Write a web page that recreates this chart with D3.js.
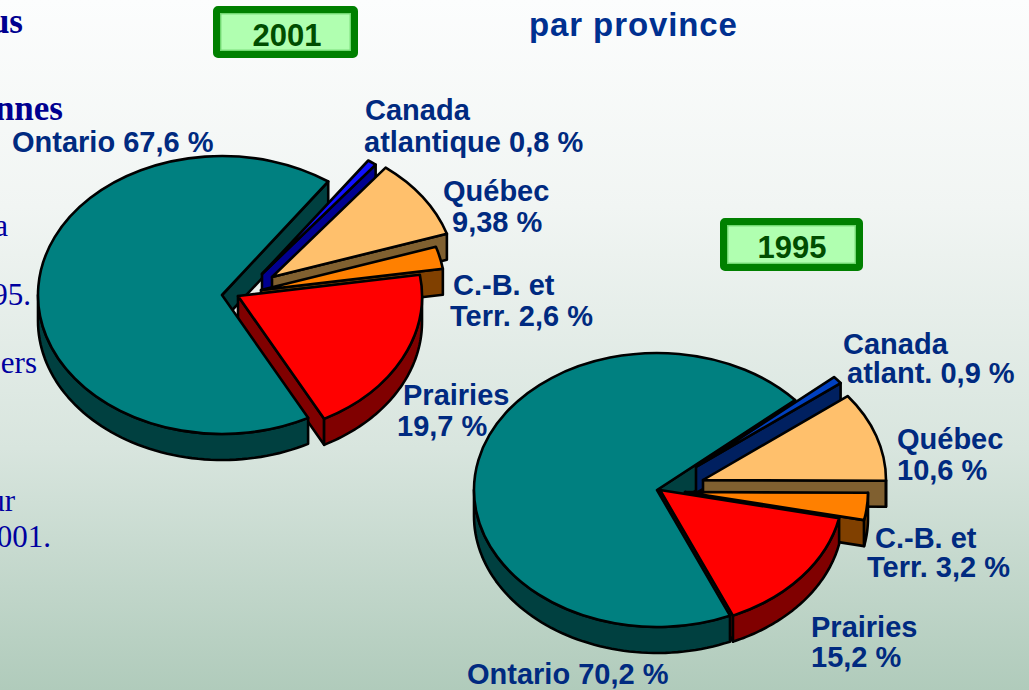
<!DOCTYPE html>
<html><head><meta charset="utf-8">
<script src="https://cdn.jsdelivr.net/npm/d3@7"></script>
<style>
html,body{margin:0;padding:0;overflow:hidden;background:#fff}
svg{display:block}
</style></head><body>
<script>
const categories = ["Ontario","Canada atlantique","Québec","C.-B. et Terr.","Prairies"];
const values2001 = [67.6,0.8,9.38,2.6,19.7];
const values1995 = [70.2,0.9,10.6,3.2,15.2];
const topColors2001 = ["#008080","#1010ff","#ffc06c","#ff8000","#ff0000"];
const sideColors2001 = ["#004040","#000090","#806030","#804000","#800000"];
const topColors1995 = ["#008080","#0040c0","#ffc06c","#ff8000","#ff0000"];
const sideColors1995 = ["#004040","#002060","#806030","#804000","#800000"];
const labels2001 = [["Ontario 67,6 %"],["Canada","atlantique 0,8 %"],["Québec","9,38 %"],["C.-B. et","Terr. 2,6 %"],["Prairies","19,7 %"]];
const labels1995 = [["Ontario 70,2 %"],["Canada","atlant. 0,9 %"],["Québec","10,6 %"],["C.-B. et","Terr. 3,2 %"],["Prairies","15,2 %"]];
const leftFragments = ["a","95.","ers","ur","001."];
const headingFragments = ["us","nnes"];
const years = ["2001","1995"];
const subtitle = "par province";

const W=1029,H=690;
const svg=d3.select("body").append("svg").attr("width",W).attr("height",H);
const defs=svg.append("defs");
const grad=defs.append("linearGradient").attr("id","bg").attr("x1",0).attr("x2",0).attr("y1",0).attr("y2",1);
[[0,"#fcfdfd"],[0.3,"#f1f5f3"],[0.65,"#d8e5de"],[1,"#b0cbbb"]].forEach(s=>grad.append("stop").attr("offset",s[0]).attr("stop-color",s[1]));
svg.append("rect").attr("width",W).attr("height",H).attr("fill","url(#bg)");

const rad=d=>d*Math.PI/180;
function drawPie(cfg){
  const g=svg.append("g");
  const k=cfg.ry/cfg.rx;
  const slices=d3.pie().sort(null).startAngle(rad(cfg.start)).endAngle(rad(cfg.start+360))(cfg.values);
  const pt=(t,o,dy=0)=>[cfg.cx+o[0]+cfg.rx*Math.sin(t), cfg.cy+o[1]-cfg.ry*Math.cos(t)+dy];
  const line=d3.line();
  const arc=d3.arc().innerRadius(0).outerRadius(cfg.rx);
  const style=p=>p.attr("stroke","#000").attr("stroke-width",2.6).attr("stroke-linejoin","round");
  const faces=g.append("g"), walls=g.append("g"), tops=g.append("g");
  slices.forEach((s,i)=>{
    const o=cfg.offsets[i];
    const apex=[cfg.cx+o[0],cfg.cy+o[1]];
    // outer wall, lower half of the ellipse only
    [[Math.PI/2,3*Math.PI/2],[5*Math.PI/2,7*Math.PI/2]].forEach(([lo,hi])=>{
      const a=Math.max(lo,s.startAngle), b=Math.min(hi,s.endAngle);
      if(b<=a) return;
      const ts=d3.range(0,61).map(j=>a+(b-a)*j/60);
      const pts=ts.map(t=>pt(t,o)).concat(ts.slice().reverse().map(t=>pt(t,o,cfg.depth)));
      style(walls.append("path").attr("d",line(pts)+"Z").attr("fill",cfg.side[i]));
    });
    // cut faces turned towards the viewer
    const face=t=>{
      const q=pt(t,o);
      const pts=[apex,q,[q[0],q[1]+cfg.depth],[apex[0],apex[1]+cfg.depth]];
      style(faces.append("path").attr("d",line(pts)+"Z").attr("fill",cfg.side[i]));
    };
    if(Math.sin(s.startAngle)<0) face(s.startAngle);
    if(Math.sin(s.endAngle)>0) face(s.endAngle);
    // top surface
    style(tops.append("path").attr("d",arc(s))
      .attr("transform",`translate(${apex[0]},${apex[1]}) scale(1,${k})`)
      .attr("vector-effect","non-scaling-stroke")
      .attr("fill",cfg.top[i]));
  });
}

drawPie({cx:222,cy:295,rx:184,ry:139,depth:26,start:152.1,values:values2001,top:topColors2001,side:sideColors2001,
  offsets:[[0,0],[40,-21],[50,-18],[39,-5],[16,1]]});
drawPie({cx:657,cy:490,rx:183,ry:137,depth:26,start:156.5,values:values1995,top:topColors1995,side:sideColors1995,
  offsets:[[0,0],[39,-23],[46,-10],[28,2],[3,0]]});

const sans="'Liberation Sans',Arial,sans-serif", serif="'Liberation Serif','Times New Roman',serif";
const labelColor="#002a80";
function labelBlock(lines,xs,ys){
  lines.forEach((t,i)=>svg.append("text").attr("x",xs[i]).attr("y",ys[i]).text(t)
    .attr("font-family",sans).attr("font-weight",700).attr("font-size",29).attr("fill",labelColor));
}
const pos2001=[[[12],[152]],[[365,364],[120,152]],[[443,452],[201,232]],[[453,450],[295,326]],[[403,397],[405,436]]];
const pos1995=[[[467],[684]],[[843,847],[354,383]],[[897,897],[449,480]],[[875,867],[548,577]],[[811,811],[637,667]]];
labels2001.forEach((l,i)=>labelBlock(l,pos2001[i][0],pos2001[i][1]));
labels1995.forEach((l,i)=>labelBlock(l,pos1995[i][0],pos1995[i][1]));

svg.append("text").attr("x",529).attr("y",36).text(subtitle)
  .attr("font-family",sans).attr("font-weight",700).attr("font-size",33).attr("letter-spacing",0.9).attr("fill","#003090");

[[216.5,9.5,138,45,287],[723.5,221.5,136,46,792]].forEach((b,i)=>{
  svg.append("rect").attr("x",b[0]).attr("y",b[1]).attr("width",b[2]).attr("height",b[3]).attr("rx",1.5)
    .attr("fill","#b0ffb0").attr("stroke","#008000").attr("stroke-width",7);
  svg.append("rect").attr("x",b[0]+4.2).attr("y",b[1]+4.2).attr("width",b[2]-8.4).attr("height",b[3]-8.4)
    .attr("fill","none").attr("stroke","#70d870").attr("stroke-width",1.4);
  svg.append("text").attr("x",b[4]).attr("y",b[1]+36).attr("text-anchor","middle").text(years[i])
    .attr("font-family",sans).attr("font-weight",700).attr("font-size",31).attr("fill","#004d00");
});

[[23,33],[63,120]].forEach((p,i)=>svg.append("text").attr("x",p[0]).attr("y",p[1]).attr("text-anchor","end")
  .text(headingFragments[i]).attr("font-family",serif).attr("font-weight",700).attr("font-size",35).attr("fill","#000090"));
[[8,236],[31,305],[37,373],[15,511],[51,547]].forEach((p,i)=>svg.append("text").attr("x",p[0]).attr("y",p[1]).attr("text-anchor","end")
  .text(leftFragments[i]).attr("font-family",serif).attr("font-size",31).attr("fill","#0000a0"));
</script>
</body></html>
